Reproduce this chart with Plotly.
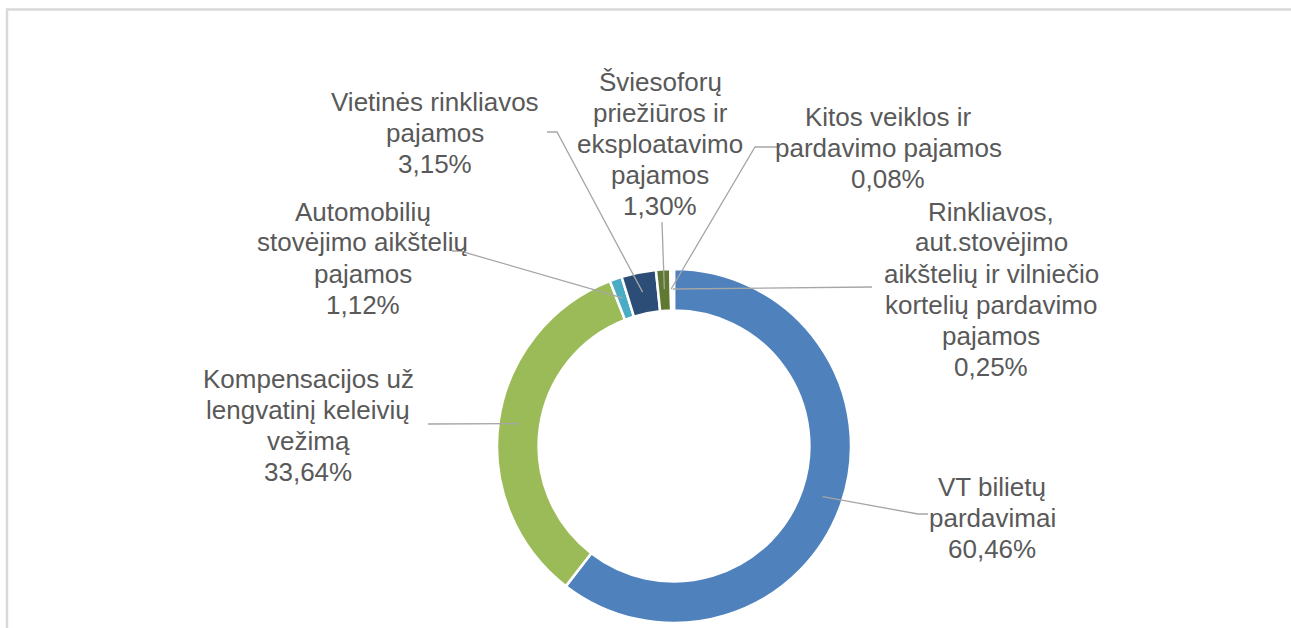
import math
import plotly.graph_objects as go

# ---- data ----
categories = [
    "VT bilietų pardavimai",
    "Kompensacijos už lengvatinį keleivių vežimą",
    "Automobilių stovėjimo aikštelių pajamos",
    "Vietinės rinkliavos pajamos",
    "Šviesoforų priežiūros ir eksploatavimo pajamos",
    "Kitos veiklos ir pardavimo pajamos",
    "Rinkliavos, aut.stovėjimo aikštelių ir vilniečio kortelių pardavimo pajamos",
]
values = [60.46, 33.64, 1.12, 3.15, 1.30, 0.08, 0.25]
label_lines = [
    ["VT bilietų", "pardavimai"],
    ["Kompensacijos už", "lengvatinį keleivių", "vežimą"],
    ["Automobilių", "stovėjimo aikštelių", "pajamos"],
    ["Vietinės rinkliavos", "pajamos"],
    ["Šviesoforų", "priežiūros ir", "eksploatavimo", "pajamos"],
    ["Kitos veiklos ir", "pardavimo pajamos"],
    ["Rinkliavos,", "aut.stovėjimo", "aikštelių ir vilniečio", "kortelių pardavimo", "pajamos"],
]

# ---- style / layout ----
colors = ["#4F81BD", "#9BBB59", "#4BACC6", "#2C4D75", "#5F7A30", "#F4F4F4", "#F4F4F4"]
W, H = 1291, 628
CX, CY, R = 674, 446, 177
HOLE = 0.765
R_LEAD = 157
LINE_SP = 31
FONT_SIZE = 26
# label centres (pixels)
label_pos = [(992, 518), (308, 425), (363, 258), (435, 133), (660, 144), (888, 148), (991, 289)]
# leader line points on the label side (pixels)
leader_start = [
    [(928, 514), (918, 514)],
    [(428, 424)],
    [(452, 251), (460, 251)],
    [(547, 132), (557, 132)],
    [(662, 222)],
    [(778, 147), (755, 147)],
    [(872, 287)],
]
TEXT_COLOR = "#595959"
LINE_COLOR = "#A6A6A6"
FONT = "Arial, Liberation Sans, sans-serif"


def pxx(x):
    return x / W


def pyy(y):
    return 1 - y / H


fig = go.Figure(
    go.Pie(
        labels=categories,
        values=values,
        hole=HOLE,
        sort=False,
        direction="clockwise",
        rotation=0,
        textinfo="none",
        marker=dict(colors=colors, line=dict(color="white", width=2.5)),
        domain=dict(x=[pxx(CX - R), pxx(CX + R)], y=[pyy(CY + R), pyy(CY - R)]),
        showlegend=False,
        hoverinfo="label+percent",
    )
)

total = sum(values)
shapes = []
annotations = []
cum = 0.0
for i, v in enumerate(values):
    theta = 2 * math.pi * (cum + v / 2) / total
    cum += v
    ex = CX + R_LEAD * math.sin(theta)
    ey = CY - R_LEAD * math.cos(theta)
    pts = leader_start[i] + [(ex, ey)]
    path = "M " + " L ".join(f"{pxx(x):.5f},{pyy(y):.5f}" for x, y in pts)
    shapes.append(dict(type="path", xref="paper", yref="paper", path=path,
                       line=dict(color=LINE_COLOR, width=1.3), layer="above"))
    pct = f"{v:.2f}".replace(".", ",") + "%"
    lines = label_lines[i] + [pct]
    n = len(lines)
    lx, ly = label_pos[i]
    for k, t in enumerate(lines):
        yk = ly + (k - (n - 1) / 2) * LINE_SP
        annotations.append(dict(
            x=pxx(lx), y=pyy(yk), xref="paper", yref="paper",
            text=t, showarrow=False,
            xanchor="center", yanchor="middle", align="center",
            font=dict(family=FONT, size=FONT_SIZE, color=TEXT_COLOR),
        ))

# outer chart frame
shapes.append(dict(type="path", xref="paper", yref="paper",
                   path=f"M {pxx(7):.5f},{pyy(700):.5f} L {pxx(7):.5f},{pyy(9.5):.5f} L {pxx(1300):.5f},{pyy(9.5):.5f}",
                   line=dict(color="#D9D9D9", width=2.5), layer="above"))

fig.update_layout(
    width=W, height=H,
    margin=dict(l=0, r=0, t=0, b=0),
    paper_bgcolor="white", plot_bgcolor="white",
    shapes=shapes, annotations=annotations,
)

fig.write_html(
    "out.html",
    config={"displayModeBar": False},
    post_script="document.body.style.margin='0';document.body.style.overflow='hidden';",
)
